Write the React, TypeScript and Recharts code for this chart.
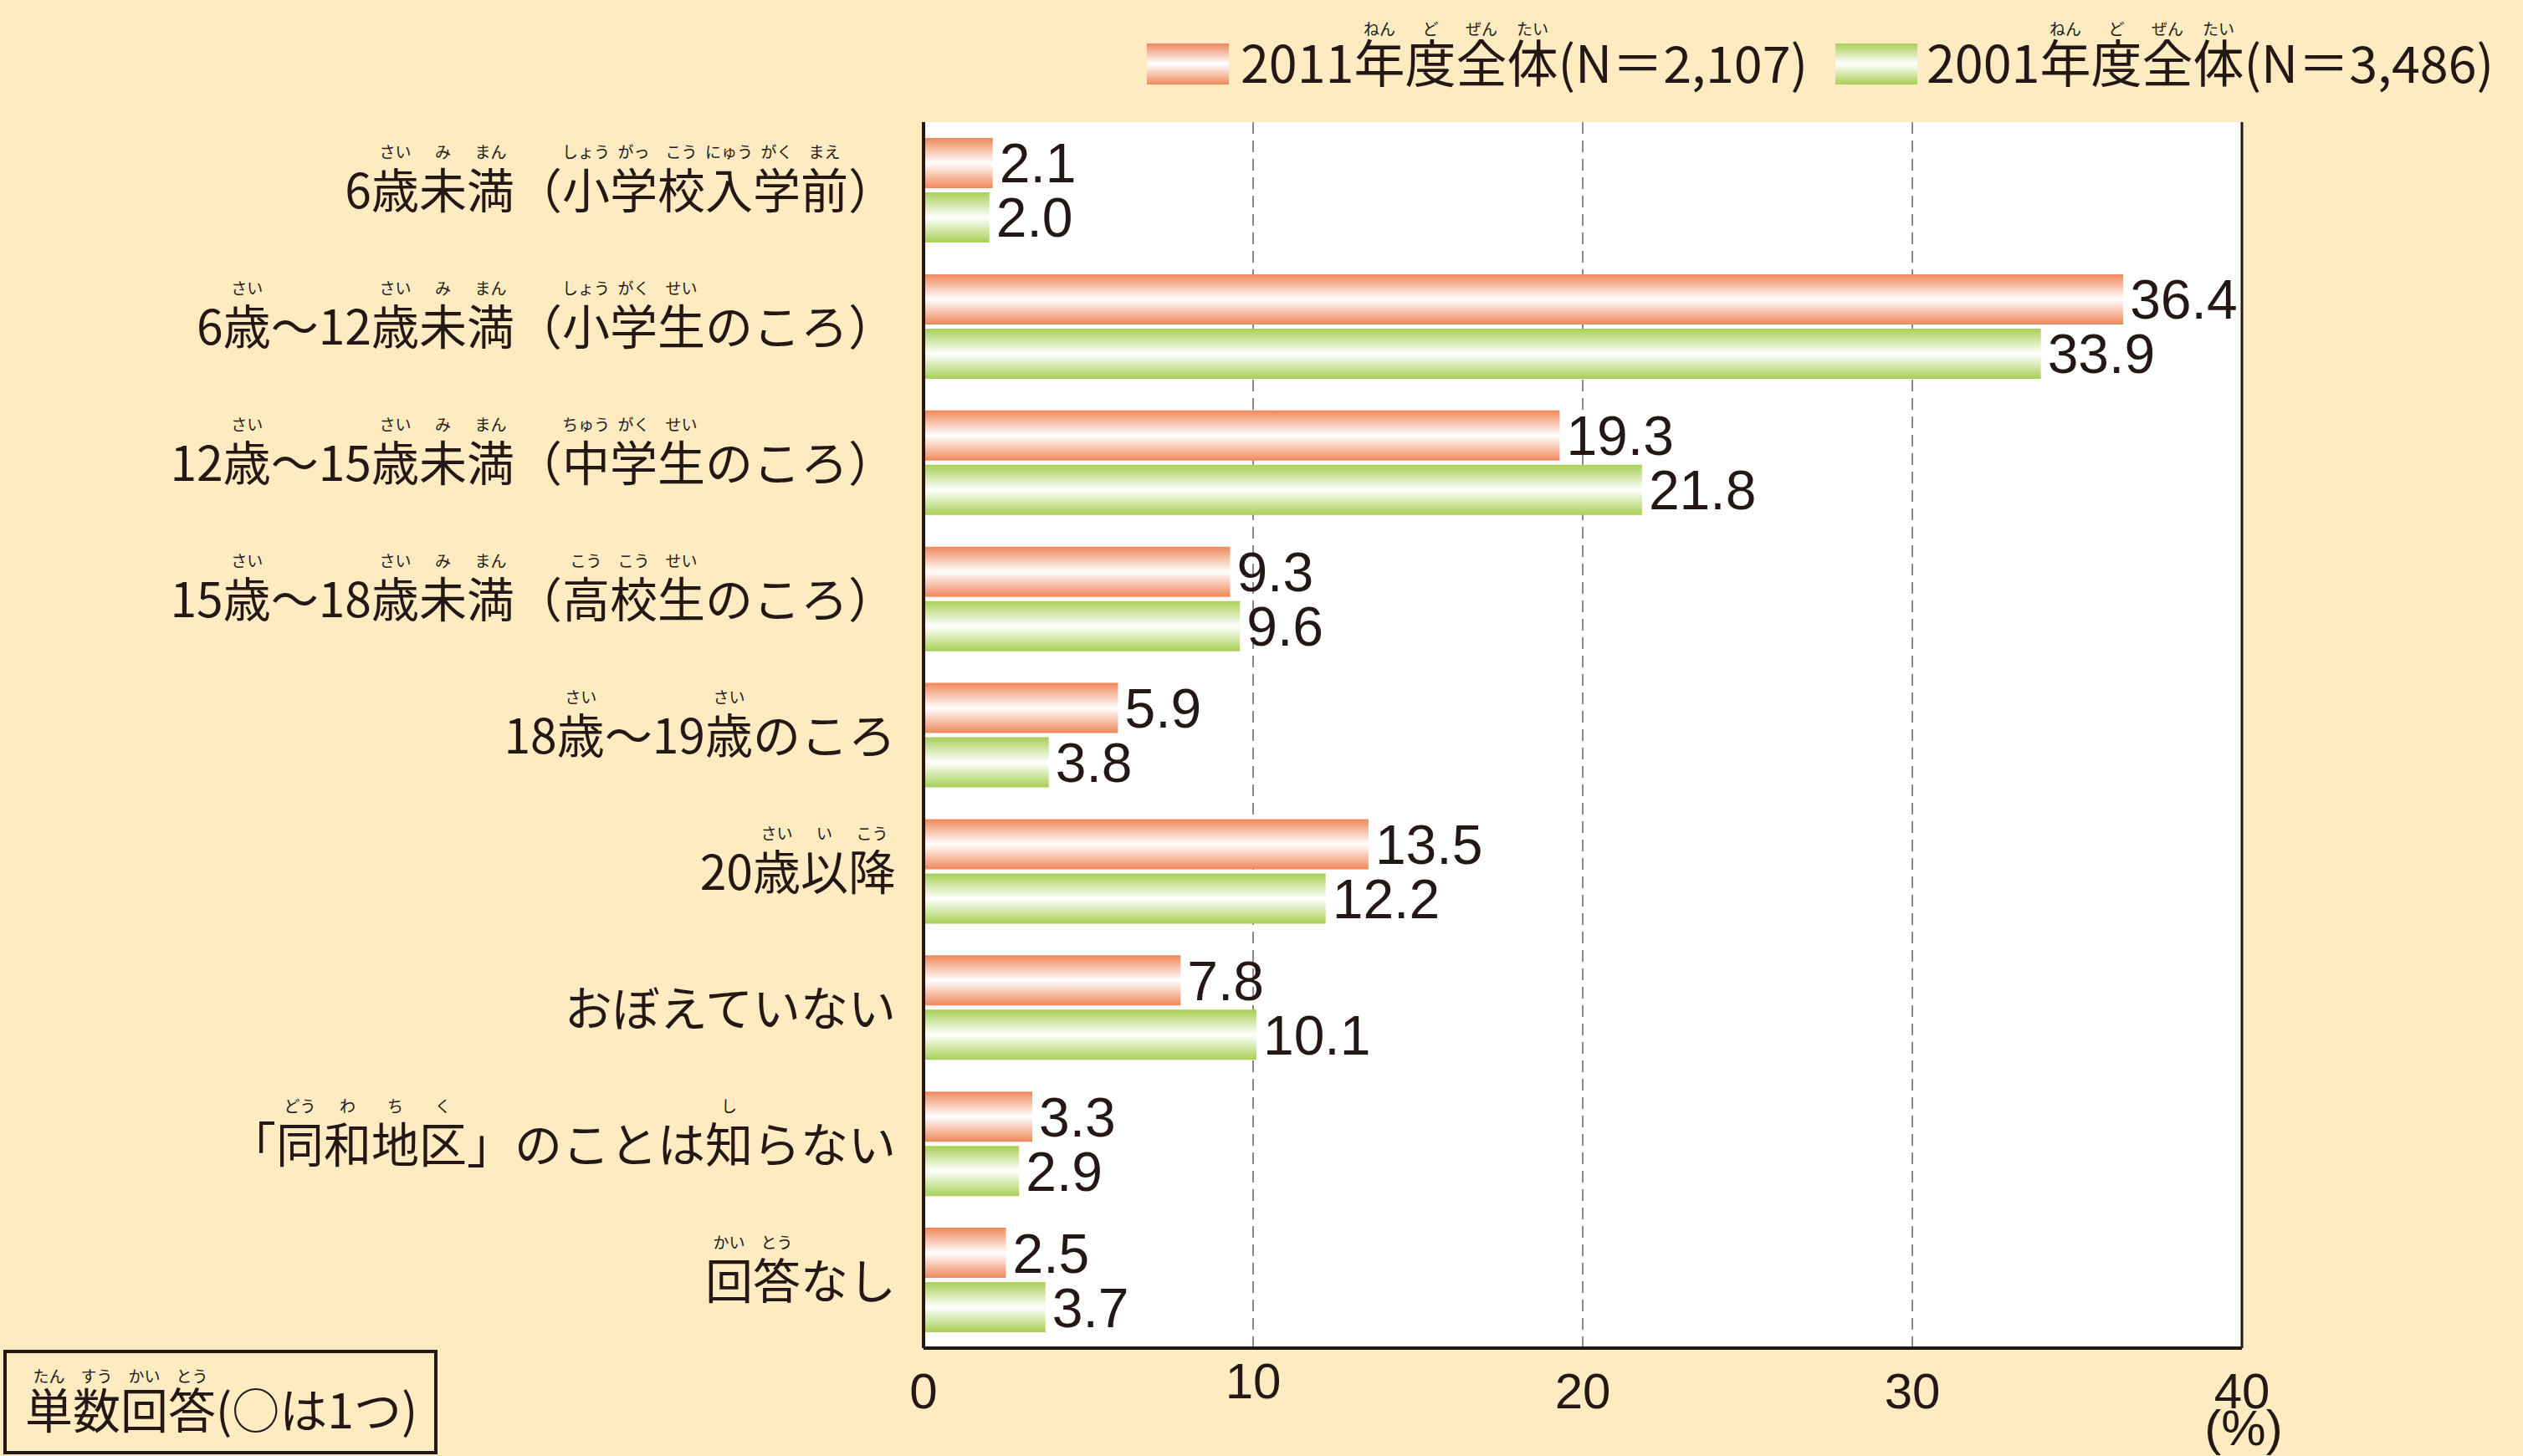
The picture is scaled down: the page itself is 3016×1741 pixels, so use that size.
import {
  Bar,
  BarChart,
  CartesianGrid,
  Customized,
  LabelList,
  Legend,
  ReferenceLine,
  XAxis,
  YAxis,
} from "recharts";

const categories = [
  "6歳未満（小学校入学前）",
  "6歳〜12歳未満（小学生のころ）",
  "12歳〜15歳未満（中学生のころ）",
  "15歳〜18歳未満（高校生のころ）",
  "18歳〜19歳のころ",
  "20歳以降",
  "おぼえていない",
  "「同和地区」のことは知らない",
  "回答なし",
];

// [character index, reading]
const furigana: [number, string][][] = [
  [[1, "さい"], [2, "み"], [3, "まん"], [5, "しょう"], [6, "がっ"], [7, "こう"], [8, "にゅう"], [9, "がく"], [10, "まえ"]],
  [[1, "さい"], [5, "さい"], [6, "み"], [7, "まん"], [9, "しょう"], [10, "がく"], [11, "せい"]],
  [[2, "さい"], [6, "さい"], [7, "み"], [8, "まん"], [10, "ちゅう"], [11, "がく"], [12, "せい"]],
  [[2, "さい"], [6, "さい"], [7, "み"], [8, "まん"], [10, "こう"], [11, "こう"], [12, "せい"]],
  [[2, "さい"], [6, "さい"]],
  [[2, "さい"], [3, "い"], [4, "こう"]],
  [],
  [[1, "どう"], [2, "わ"], [3, "ち"], [4, "く"], [10, "し"]],
  [[0, "かい"], [1, "とう"]],
];

const values2011 = [2.1, 36.4, 19.3, 9.3, 5.9, 13.5, 7.8, 3.3, 2.5];
const values2001 = [2.0, 33.9, 21.8, 9.6, 3.8, 12.2, 10.1, 2.9, 3.7];

const seriesNames = ["2011年度全体(N＝2,107)", "2001年度全体(N＝3,486)"];
const seriesFurigana = ["ねん", "ど", "ぜん", "たい"];

const xTicks = [0, 10, 20, 30, 40];
const gridValues = [10, 20, 30];

const noteText = "単数回答(○は1つ)";
const noteFurigana = ["たん", "すう", "かい", "とう"];

const INK = "#231815";
const BG = "#FEEBC1";
const ORANGE = "#F0875A";
const GREEN = "#A8CF55";
const JP = '"Noto Sans CJK JP", "Noto Sans", sans-serif';
const NUM = '"Liberation Sans", Arial, sans-serif';

const data = categories.map((name, i) => ({
  name,
  v2011: values2011[i],
  v2001: values2001[i],
}));

// rough advance widths (em) used to place the reading above each kanji
function charW(c: string) {
  if (/[0-9]/.test(c)) return 0.555;
  if (c === "(" || c === ")") return 0.33;
  if (c === ",") return 0.25;
  if (c === "N") return 0.73;
  return 1;
}

function CategoryTick({ x, y, payload }: any) {
  const idx = categories.indexOf(payload.value);
  const label = categories[idx];
  const fs = 57;
  const chars = Array.from(label);
  const total = chars.reduce((s, c) => s + charW(c), 0);
  const left = x - total * fs;
  const centers: number[] = [];
  let acc = 0;
  chars.forEach((c) => {
    centers.push(left + (acc + charW(c) / 2) * fs);
    acc += charW(c);
  });
  return (
    <g>
      <text x={x} y={y + 22} textAnchor="end" fontSize={fs} fontFamily={JP} fill={INK}>
        {label}
      </text>
      {(furigana[idx] || []).map(([at, kana]) => (
        <text
          key={at}
          x={centers[at]}
          y={y - 38}
          textAnchor="middle"
          fontSize={19}
          fontFamily={JP}
          fill={INK}
        >
          {kana}
        </text>
      ))}
    </g>
  );
}

function ValueTick({ x, y, payload }: any) {
  const v = payload.value;
  return (
    <g>
      <text
        x={x}
        y={y + 72 - (v === 10 ? 12 : 0)}
        textAnchor="middle"
        fontSize={60}
        fontFamily={NUM}
        fill={INK}
      >
        {v}
      </text>
      {v === 40 && (
        <text x={x + 2} y={y + 116} textAnchor="middle" fontSize={60} fontFamily={NUM} fill={INK}>
          (%)
        </text>
      )}
    </g>
  );
}

function SeriesLegend() {
  const fs = 61;
  const items = [
    { sx: 1371, tx: 1483, grad: "legOrange", name: seriesNames[0] },
    { sx: 2194, tx: 2303, grad: "legGreen", name: seriesNames[1] },
  ];
  return (
    <svg width={3016} height={130}>
      <defs>
        <linearGradient id="legOrange" x1="0" y1="0" x2="0" y2="1">
          <stop offset="0" stopColor={ORANGE} />
          <stop offset="0.5" stopColor="#ffffff" />
          <stop offset="1" stopColor={ORANGE} />
        </linearGradient>
        <linearGradient id="legGreen" x1="0" y1="0" x2="0" y2="1">
          <stop offset="0" stopColor={GREEN} />
          <stop offset="0.5" stopColor="#ffffff" />
          <stop offset="1" stopColor={GREEN} />
        </linearGradient>
      </defs>
      {items.map((it) => (
        <g key={it.name}>
          <rect x={it.sx} y={52} width={98} height={49} fill={`url(#${it.grad})`} />
          <text x={it.tx} y={99} fontSize={fs} fontFamily={JP} fill={INK}>
            {it.name}
          </text>
          {seriesFurigana.map((k, i) => (
            <text
              key={k + i}
              x={it.tx + (4 * 0.555 + i + 0.5) * fs}
              y={42}
              textAnchor="middle"
              fontSize={19}
              fontFamily={JP}
              fill={INK}
            >
              {k}
            </text>
          ))}
        </g>
      ))}
    </svg>
  );
}

function NoteBox() {
  const fs = 57;
  return (
    <g>
      <rect x={6} y={1616} width={515} height={121} fill="none" stroke={INK} strokeWidth={4} />
      <text x={30} y={1708} fontSize={fs} fontFamily={JP} fill={INK}>
        {noteText}
      </text>
      {noteFurigana.map((k, i) => (
        <text
          key={k + i}
          x={30 + (i + 0.5) * fs}
          y={1653}
          textAnchor="middle"
          fontSize={19}
          fontFamily={JP}
          fill={INK}
        >
          {k}
        </text>
      ))}
    </g>
  );
}

const fmt = (v: any) => Number(v).toFixed(1);

export default function App() {
  return (
    <div
      style={{
        position: "absolute",
        left: 0,
        top: 0,
        width: 3016,
        height: 1741,
        background: BG,
        overflow: "hidden",
      }}
    >
      <BarChart
        width={3016}
        height={1741}
        data={data}
        layout="vertical"
        margin={{ top: 146, right: 336, bottom: 0, left: 0 }}
        barGap={5}
      >
        <defs>
          <linearGradient id="barOrange" x1="0" y1="0" x2="0" y2="1">
            <stop offset="0" stopColor={ORANGE} />
            <stop offset="0.5" stopColor="#ffffff" />
            <stop offset="1" stopColor={ORANGE} />
          </linearGradient>
          <linearGradient id="barGreen" x1="0" y1="0" x2="0" y2="1">
            <stop offset="0" stopColor={GREEN} />
            <stop offset="0.5" stopColor="#ffffff" />
            <stop offset="1" stopColor={GREEN} />
          </linearGradient>
        </defs>
        <CartesianGrid
          fill="#ffffff"
          horizontal={false}
          verticalValues={gridValues}
          stroke="#8a8a8a"
          strokeWidth={2}
          strokeDasharray="14 8"
        />
        <XAxis
          type="number"
          domain={[0, 40]}
          ticks={xTicks}
          height={129}
          tickSize={0}
          tickMargin={0}
          tickLine={false}
          axisLine={{ stroke: INK, strokeWidth: 4 }}
          tick={<ValueTick />}
          interval={0}
        />
        <YAxis
          type="category"
          dataKey="name"
          width={1104}
          tickSize={0}
          tickMargin={33}
          tickLine={false}
          axisLine={{ stroke: INK, strokeWidth: 4 }}
          tick={<CategoryTick />}
          interval={0}
        />
        <ReferenceLine x={40} stroke={INK} strokeWidth={3} />
        <Legend
          verticalAlign="middle"
          align="center"
          content={() => <SeriesLegend />}
          wrapperStyle={{ position: "absolute", top: 0, left: 0, width: 3016, height: 130 }}
        />
        <Bar
          dataKey="v2011"
          name={seriesNames[0]}
          fill="url(#barOrange)"
          barSize={60}
          isAnimationActive={false}
        >
          <LabelList
            dataKey="v2011"
            position="right"
            offset={8}
            formatter={fmt}
            fontSize={66}
            fontFamily={NUM}
            fill={INK}
          />
        </Bar>
        <Bar
          dataKey="v2001"
          name={seriesNames[1]}
          fill="url(#barGreen)"
          barSize={60}
          isAnimationActive={false}
        >
          <LabelList
            dataKey="v2001"
            position="right"
            offset={8}
            formatter={fmt}
            fontSize={66}
            fontFamily={NUM}
            fill={INK}
          />
        </Bar>
        <Customized component={<NoteBox />} />
      </BarChart>
    </div>
  );
}
